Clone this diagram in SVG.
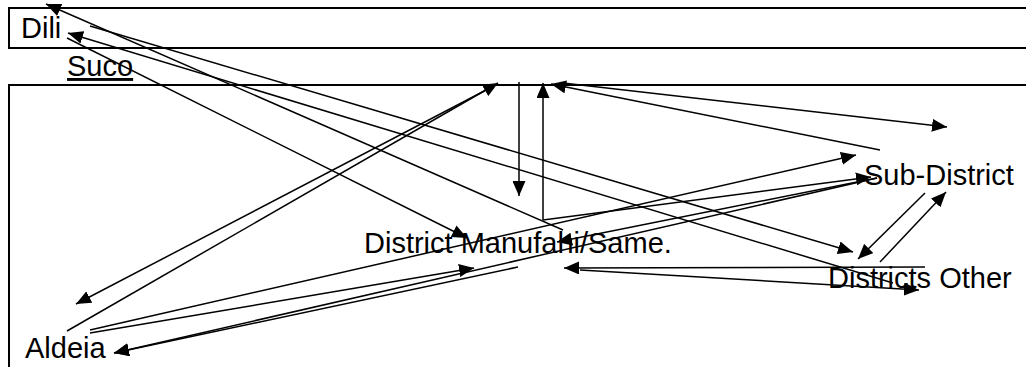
<svg xmlns="http://www.w3.org/2000/svg" width="1026" height="367" viewBox="0 0 1026 367">
<style>
.frame{fill:none;stroke:#000;stroke-width:2}
.lbl{font-family:"Liberation Sans",Arial,sans-serif;font-size:29px;fill:#000}
.c{fill:none;stroke:#000;stroke-width:1.5;marker-end:url(#ah)}
</style>
<defs>
<marker id="ah" markerUnits="userSpaceOnUse" markerWidth="15" markerHeight="13" refX="15" refY="6.5" orient="auto" viewBox="0 0 15 13">
<path d="M0,0 L15,6.5 L0,13 z" fill="#000"/>
</marker>
</defs>
<rect x="0" y="0" width="1026" height="367" fill="#fff"/>
<g id="dili">
<rect class="frame" x="9" y="8" width="1030" height="40"/>
<text class="lbl" x="21" y="38">Dili</text>
</g>
<g id="suco">
<rect class="frame" x="9" y="85" width="1030" height="300"/>
<text class="lbl" x="67" y="76" text-decoration="underline">Suco</text>
</g>
<g id="manufahi"><text class="lbl" x="364" y="253">District Manufahi/Same.</text></g>
<g id="subdistrict"><text class="lbl" x="864" y="185">Sub-District</text></g>
<g id="districts-other"><text class="lbl" x="828" y="288">Districts Other</text></g>
<g id="aldeia"><text class="lbl" x="25" y="358">Aldeia</text></g>
<g id="connectors">
<line class="c" x1="67" y1="38" x2="467" y2="238"/>
<line class="c" x1="563" y1="230" x2="46" y2="4"/>
<line class="c" x1="90" y1="26" x2="853" y2="252"/>
<line class="c" x1="893" y1="283" x2="68" y2="33"/>
<line class="c" x1="519" y1="82" x2="519" y2="196"/>
<line class="c" x1="543" y1="220" x2="543" y2="83"/>
<line class="c" x1="490" y1="88" x2="76" y2="304"/>
<line class="c" x1="67" y1="331" x2="498" y2="83"/>
<line class="c" x1="880" y1="150" x2="551" y2="84"/>
<line class="c" x1="563" y1="83" x2="947" y2="127"/>
<line class="c" x1="925" y1="193" x2="858" y2="259"/>
<line class="c" x1="880" y1="262" x2="946" y2="192"/>
<line class="c" x1="925" y1="267" x2="564" y2="268"/>
<line class="c" x1="580" y1="270" x2="919" y2="290"/>
<line class="c" x1="543" y1="220" x2="871" y2="177"/>
<line class="c" x1="877" y1="178" x2="557" y2="242"/>
<line class="c" x1="877" y1="178" x2="114" y2="353"/>
<line class="c" x1="518" y1="267" x2="114" y2="353"/>
<line class="c" x1="90" y1="333" x2="474" y2="268"/>
<line class="c" x1="90" y1="330" x2="856" y2="155"/>
</g>
</svg>
